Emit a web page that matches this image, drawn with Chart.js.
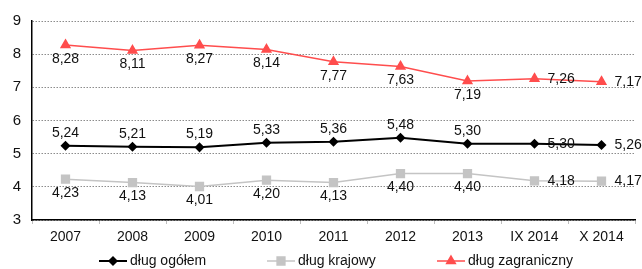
<!DOCTYPE html>
<html>
<head>
<meta charset="utf-8">
<style>
  html, body { margin: 0; padding: 0; background: #fff; }
  #wrap { width: 642px; height: 269px; position: relative; }
</style>
<script src="https://cdn.jsdelivr.net/npm/chart.js@4/dist/chart.umd.min.js"></script>
</head>
<body>
<div id="wrap"><canvas id="chart"></canvas></div>
<script>
/* ── Data ─────────────────────────────────────────── */
const categories  = ["2007", "2008", "2009", "2010", "2011", "2012", "2013", "IX 2014", "X 2014"];
const dlugOgolem  = [5.24, 5.21, 5.19, 5.33, 5.36, 5.48, 5.30, 5.30, 5.26];
const dlugKrajowy = [4.23, 4.13, 4.01, 4.20, 4.13, 4.40, 4.40, 4.18, 4.17];
const dlugZagr    = [8.28, 8.11, 8.27, 8.14, 7.77, 7.63, 7.19, 7.26, 7.17];
const yTicks      = [3, 4, 5, 6, 7, 8, 9];

/* where each value label sits relative to its point */
const labelPos = [
  ["above", "above", "above", "above", "above", "above", "above", "right", "right"],
  ["below", "below", "below", "below", "below", "below", "below", "right", "right"],
  ["below", "below", "below", "below", "below", "below", "below", "right", "right"],
];

const FONT = "'Liberation Sans', Arial, sans-serif";

/* ── Value labels ─────────────────────────────────── */
const valueLabels = {
  id: "valueLabels",
  afterDatasetsDraw(chart) {
    const ctx = chart.ctx;
    ctx.save();
    ctx.font = "14px " + FONT;
    ctx.fillStyle = "#111";
    chart.data.datasets.forEach((ds, i) => {
      const meta = chart.getDatasetMeta(i);
      meta.data.forEach((pt, j) => {
        const txt = ds.data[j].toFixed(2).replace(".", ",");
        const pos = labelPos[i][j];
        ctx.textBaseline = "middle";
        if (pos === "right") {
          ctx.textAlign = "left";
          ctx.fillText(txt, pt.x + 13, pt.y);
        } else if (pos === "above") {
          ctx.textAlign = "center";
          ctx.fillText(txt, pt.x, pt.y - 13);
        } else {
          ctx.textAlign = "center";
          ctx.fillText(txt, pt.x, pt.y + 14);
        }
      });
    });
    ctx.restore();
  }
};

/* ── Legend (line + marker) ───────────────────────── */
const lineLegend = {
  id: "lineLegend",
  afterDraw(chart) {
    const ctx = chart.ctx;
    const starts = [99, 267, 437];
    const y = 261;
    ctx.save();
    chart.data.datasets.forEach((ds, i) => {
      const x0 = starts[i];
      ctx.strokeStyle = ds.borderColor;
      ctx.lineWidth = ds.borderWidth;
      ctx.beginPath();
      ctx.moveTo(x0, y);
      ctx.lineTo(x0 + 28, y);
      ctx.stroke();
      ctx.fillStyle = ds.pointBackgroundColor;
      ctx.strokeStyle = ds.pointBorderColor;
      Chart.helpers.drawPoint(ctx, {
        pointStyle: ds.pointStyle, radius: ds.pointRadius, borderWidth: 1
      }, x0 + 14, y);
      ctx.fillStyle = "#111";
      ctx.font = "14px " + FONT;
      ctx.textAlign = "left";
      ctx.textBaseline = "middle";
      ctx.fillText(ds.label, x0 + 31, y);
    });
    ctx.restore();
  }
};

/* ── Chart ────────────────────────────────────────── */
new Chart(document.getElementById("chart"), {
  type: "line",
  data: {
    labels: categories,
    datasets: [
      {
        label: "dług ogółem",
        data: dlugOgolem,
        borderColor: "#000000",
        borderWidth: 2,
        pointStyle: "rectRot",
        pointRadius: 3.6,
        pointBackgroundColor: "#000000",
        pointBorderColor: "#000000",
        tension: 0,
      },
      {
        label: "dług krajowy",
        data: dlugKrajowy,
        borderColor: "#c4c4c4",
        borderWidth: 1.5,
        pointStyle: "rect",
        pointRadius: 5.5,
        pointBackgroundColor: "#c4c4c4",
        pointBorderColor: "#c4c4c4",
        tension: 0,
      },
      {
        label: "dług zagraniczny",
        data: dlugZagr,
        borderColor: "#ff4d4d",
        borderWidth: 1.5,
        pointStyle: "triangle",
        pointRadius: 5,
        pointBackgroundColor: "#ff4d4d",
        pointBorderColor: "#ff4d4d",
        tension: 0,
      },
    ]
  },
  options: {
    responsive: true,
    maintainAspectRatio: false,
    animation: false,
    layout: { padding: { top: 21, right: 7, left: 0, bottom: 0 } },
    plugins: {
      legend: { display: false },
      tooltip: { enabled: false },
    },
    scales: {
      x: {
        offset: true,
        afterFit: s => { s.height = 49; },
        grid: { offset: true, drawOnChartArea: false, drawTicks: true, tickLength: 4, color: "#bdbdbd" },
        border: { color: "#000", width: 1.5 },
        ticks: { color: "#111", padding: 5, font: { family: FONT, size: 14 } },
      },
      y: {
        min: 3, max: 9,
        afterFit: s => { s.width = 32; },
        afterBuildTicks: s => { s.ticks = yTicks.map(v => ({ value: v })); },
        grid: { color: "#8c8c8c", drawTicks: false },
        border: { color: "#000", width: 1.5, dash: [1.5, 1.5] },
        ticks: { color: "#111", padding: 11, font: { family: FONT, size: 15 } },
      }
    }
  },
  plugins: [valueLabels, lineLegend]
});
</script>
</body>
</html>
